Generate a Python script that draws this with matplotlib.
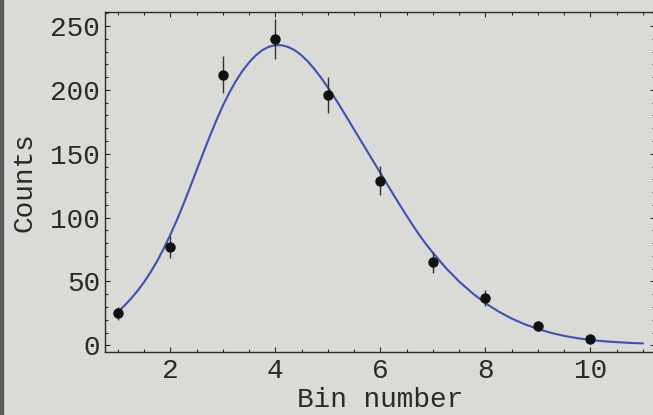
import matplotlib.pyplot as plt
from matplotlib.patches import Rectangle
from matplotlib.ticker import MultipleLocator

# measured histogram
bins = [1, 2, 3, 4, 5, 6, 7, 8, 9, 10]
counts = [25, 77, 212, 240, 196, 129, 65, 37, 15, 5]
errors = [5, 8.8, 14.5, 15.5, 14, 11.4, 8, 6, 3.9, 2.2]

# fitted curve
fit_x = [1.0, 1.125, 1.25, 1.375, 1.5, 1.625, 1.75, 1.875,
         2.0, 2.125, 2.25, 2.375, 2.5, 2.625, 2.75, 2.875,
         3.0, 3.125, 3.25, 3.375, 3.5, 3.625, 3.75, 3.875,
         4.0, 4.125, 4.25, 4.375, 4.5, 4.625, 4.75, 4.875,
         5.0, 5.125, 5.25, 5.375, 5.5, 5.625, 5.75, 5.875,
         6.0, 6.125, 6.25, 6.375, 6.5, 6.625, 6.75, 6.875,
         7.0, 7.25, 7.5, 7.75, 8.0, 8.25, 8.5, 8.75,
         9.0, 9.25, 9.5, 9.75, 10.0, 10.25, 10.5, 10.75, 11.0]
fit_y = [26, 31, 36.5, 42.6, 49.5, 57.3, 66, 75.8,
         86.5, 98.1, 110.5, 123.6, 137, 150.4, 163.5, 175.9,
         187.5, 197.9, 207, 214.9, 221.5, 226.9, 231, 233.7,
         235, 234.9, 233.5, 230.9, 227, 222, 216, 209.3,
         202, 194.2, 186, 177.6, 169, 160.5, 152, 143.5,
         135, 126.5, 118, 109.7, 101.5, 93.6, 86, 79,
         72.5, 60.5, 50, 41, 33, 26.5, 21, 16.5,
         12.8, 9.8, 7.4, 5.6, 4.2, 3.2, 2.5, 1.9, 1.5]

bg = '#dadbd6'
ink = '#2a2a2a'
plt.rcParams['font.family'] = ['Liberation Mono', 'DejaVu Sans Mono']

fig = plt.figure(figsize=(6.53, 4.15), dpi=100, facecolor=bg)
ax = fig.add_axes([105 / 653, 1 - 351.7 / 415, 550 / 653, 340 / 415])
ax.set_facecolor(bg)

ax.plot(fit_x, fit_y, color='#3d50b4', lw=1.5, zorder=2,
        solid_joinstyle='round')
ax.errorbar(bins, counts, yerr=errors, fmt='o', color='#111111', ms=6.5,
            ecolor='#333333', elinewidth=1.0, capsize=0, zorder=3)

ax.set_xlim(0.756, 11.232)
ax.set_ylim(-5.0, 261.2)
ax.xaxis.set_major_locator(MultipleLocator(2))
ax.xaxis.set_minor_locator(MultipleLocator(0.5))
ax.yaxis.set_major_locator(MultipleLocator(50))
ax.yaxis.set_minor_locator(MultipleLocator(10))
ax.tick_params(which='both', direction='in', top=True, right=True,
               labelsize=20, colors=ink, width=0.8)
ax.tick_params(which='major', length=3.5)
ax.tick_params(which='minor', length=2)
ax.tick_params(axis='y', pad=3.5)
ax.tick_params(axis='x', pad=4.5)
for s in ax.spines.values():
    s.set_linewidth(1.0)
    s.set_color(ink)

ax.set_xlabel('Bin number', fontsize=20, color=ink, labelpad=2.5)
ax.set_ylabel('Counts', fontsize=20, color=ink, labelpad=9)

fig.patches.append(Rectangle((0, 0), 3 / 653, 1, transform=fig.transFigure,
                             color='#5a5a5c', zorder=0))

fig.savefig('out.png', dpi=100, facecolor=bg)
